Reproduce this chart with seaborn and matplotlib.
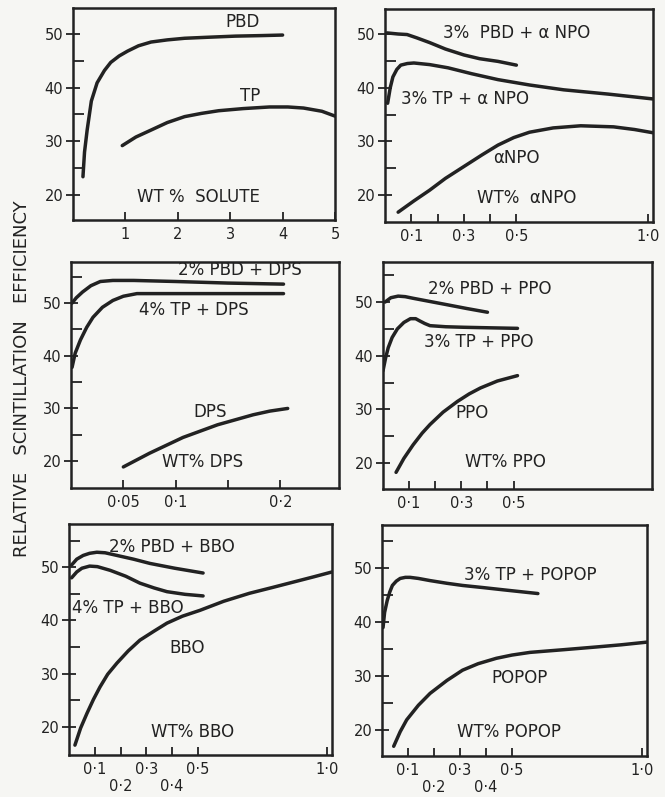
import matplotlib
matplotlib.use("Agg")
import matplotlib.pyplot as plt
import seaborn as sns

# ---------------- data ----------------
# panel A : wt % solute
pbd_x = [0.19, 0.22, 0.27, 0.35, 0.46, 0.6, 0.72, 0.88, 1.04, 1.25, 1.49, 1.8, 2.13, 2.6, 3.1, 3.6, 4.0]
pbd_y = [23.4, 28.0, 32.1, 37.5, 40.9, 43.2, 44.7, 45.9, 46.8, 47.8, 48.5, 48.9, 49.2, 49.4, 49.6, 49.7, 49.8]
tp_x = [0.94, 1.2, 1.49, 1.8, 2.13, 2.45, 2.78, 3.25, 3.75, 4.1, 4.4, 4.75, 5.0]
tp_y = [29.2, 30.8, 32.1, 33.5, 34.6, 35.2, 35.7, 36.1, 36.4, 36.4, 36.2, 35.6, 34.7]

# panel B : wt % alpha NPO
pbd_anpo_x = [0.008, 0.05, 0.084, 0.12, 0.17, 0.23, 0.30, 0.36, 0.43, 0.5]
pbd_anpo_y = [50.2, 50.0, 49.9, 49.3, 48.4, 47.2, 46.1, 45.4, 44.9, 44.2]
tp_anpo_x = [0.01, 0.02, 0.03, 0.045, 0.06, 0.085, 0.11, 0.17, 0.24, 0.33, 0.43, 0.55, 0.68, 0.85, 1.02]
tp_anpo_y = [37.1, 40.0, 42.0, 43.4, 44.2, 44.5, 44.6, 44.3, 43.7, 42.6, 41.5, 40.5, 39.6, 38.8, 37.9]
anpo_x = [0.05, 0.11, 0.17, 0.23, 0.30, 0.37, 0.43, 0.49, 0.55, 0.64, 0.745, 0.87, 0.95, 1.02]
anpo_y = [16.8, 18.9, 20.9, 23.1, 25.3, 27.5, 29.3, 30.7, 31.7, 32.5, 32.9, 32.7, 32.2, 31.6]

# panel C : wt % DPS
pbd_dps_x = [0.001, 0.005, 0.011, 0.019, 0.028, 0.04, 0.06, 0.1, 0.15, 0.203]
pbd_dps_y = [50.0, 51.0, 52.1, 53.3, 54.1, 54.3, 54.3, 54.1, 53.8, 53.6]
tp_dps_x = [0.001, 0.004, 0.009, 0.015, 0.021, 0.03, 0.04, 0.05, 0.063, 0.1, 0.15, 0.203]
tp_dps_y = [37.8, 40.5, 43.0, 45.4, 47.3, 49.2, 50.5, 51.3, 51.8, 51.8, 51.8, 51.8]
dps_x = [0.05, 0.075, 0.107, 0.14, 0.174, 0.19, 0.207]
dps_y = [18.9, 21.5, 24.5, 26.9, 28.8, 29.5, 30.0]

# panel D : wt % PPO
pbd_ppo_x = [0.008, 0.03, 0.058, 0.085, 0.115, 0.18, 0.245, 0.32, 0.40]
pbd_ppo_y = [50.0, 50.8, 51.1, 51.0, 50.7, 50.1, 49.5, 48.8, 48.1]
tp_ppo_x = [0.0, 0.01, 0.02, 0.035, 0.055, 0.08, 0.105, 0.125, 0.14, 0.16, 0.18, 0.24, 0.31, 0.41, 0.515]
tp_ppo_y = [37.2, 39.6, 41.5, 43.4, 45.0, 46.2, 46.9, 46.9, 46.5, 46.0, 45.6, 45.4, 45.3, 45.2, 45.1]
ppo_x = [0.05, 0.08, 0.115, 0.15, 0.18, 0.23, 0.285, 0.33, 0.373, 0.438, 0.515]
ppo_y = [18.3, 20.9, 23.4, 25.6, 27.2, 29.5, 31.5, 32.9, 34.0, 35.3, 36.3]

# panel E : wt % BBO
pbd_bbo_x = [0.01, 0.03, 0.055, 0.08, 0.108, 0.14, 0.186, 0.25, 0.314, 0.41, 0.52]
pbd_bbo_y = [50.4, 51.5, 52.2, 52.6, 52.8, 52.7, 52.2, 51.5, 50.7, 49.8, 48.9]
tp_bbo_x = [0.01, 0.03, 0.05, 0.08, 0.11, 0.16, 0.22, 0.275, 0.33, 0.38, 0.45, 0.52]
tp_bbo_y = [48.0, 49.1, 49.8, 50.2, 50.1, 49.4, 48.3, 47.0, 46.1, 45.4, 44.9, 44.6]
bbo_x = [0.023, 0.045, 0.07, 0.095, 0.12, 0.15, 0.186, 0.23, 0.275, 0.33, 0.38, 0.44, 0.508, 0.6, 0.70, 0.79, 0.87, 0.95, 1.02]
bbo_y = [16.6, 19.8, 22.6, 25.2, 27.5, 29.9, 32.0, 34.3, 36.3, 38.0, 39.5, 40.8, 41.9, 43.6, 45.1, 46.2, 47.2, 48.2, 49.1]

# panel F : wt % POPOP
tp_popop_x = [0.004, 0.01, 0.02, 0.03, 0.04, 0.055, 0.07, 0.09, 0.108, 0.14, 0.185, 0.25, 0.31, 0.39, 0.465, 0.6]
tp_popop_y = [39.0, 41.8, 44.0, 45.6, 46.8, 47.6, 48.1, 48.3, 48.3, 48.1, 47.7, 47.2, 46.8, 46.4, 46.0, 45.3]
popop_x = [0.045, 0.07, 0.095, 0.14, 0.185, 0.25, 0.31, 0.37, 0.44, 0.5, 0.57, 0.7, 0.825, 0.92, 1.02]
popop_y = [17.0, 19.7, 21.9, 24.6, 26.8, 29.2, 31.1, 32.3, 33.3, 33.9, 34.4, 34.9, 35.4, 35.8, 36.3]

# tick positions / labels per panel
ticks_a = [1, 2, 3, 4, 5]
labels_a = ["1", "2", "3", "4", "5"]
ticks_b = [0.1, 0.2, 0.3, 0.4, 0.5, 1.0]
labels_b = ["0·1", "", "0·3", "", "0·5", "1·0"]
ticks_c = [0.05, 0.1, 0.15, 0.2]
labels_c = ["0·05", "0·1", "", "0·2"]
ticks_d = [0.1, 0.2, 0.3, 0.4, 0.5]
labels_d = ["0·1", "", "0·3", "", "0·5"]
ticks_e = [0.1, 0.2, 0.3, 0.4, 0.5, 1.0]
labels_e = ["0·1", "\n0·2", "0·3", "\n0·4", "0·5", "1·0"]

INK = "#222222"
PAPER = "#f6f6f3"
W, H = 665, 797

sns.set_theme(style="ticks")
plt.rcParams["font.family"] = ["DejaVu Sans"]

fig = plt.figure(figsize=(W / 100, H / 100), dpi=100, facecolor=PAPER)


def make_axes(x0, y0, x1, y1):
    # pixel box -> figure fraction
    return fig.add_axes([x0 / W, 1 - y1 / H, (x1 - x0) / W, (y1 - y0) / H])


def style(ax, xlim, ylim, ticks, labels, minor_y):
    ax.set_facecolor(PAPER)
    ax.set_xlim(*xlim)
    ax.set_ylim(*ylim)
    ax.set_xticks(ticks)
    ax.set_xticklabels(labels)
    ax.set_xticks([], minor=True)
    ax.set_yticks([20, 30, 40, 50])
    ax.set_yticks(minor_y, minor=True)
    ax.tick_params(axis="both", which="both", color=INK, width=1.3,
                   labelsize=10.5, labelcolor=INK)
    ax.tick_params(axis="y", which="major", direction="inout", length=10, pad=2)
    ax.tick_params(axis="y", which="minor", direction="in", length=8)
    ax.tick_params(axis="x", which="major", direction="in", length=6, pad=5)
    for sp in ax.spines.values():
        sp.set_visible(True)
        sp.set_linewidth(1.8)
        sp.set_color(INK)
    ax.set_xlabel("")
    ax.set_ylabel("")


def curve(ax, x, y):
    sns.lineplot(x=x, y=y, ax=ax, color=INK, linewidth=2.5, sort=False,
                 estimator=None)


def note(ax, x, y, s):
    ax.text(x, y, s, ha="center", va="center", fontsize=12, color=INK)


# ---- A
ax = make_axes(73, 8, 335, 220)
curve(ax, pbd_x, pbd_y)
curve(ax, tp_x, tp_y)
note(ax, 3.23, 52.3, "PBD")
note(ax, 3.38, 38.4, "TP")
note(ax, 2.4, 19.6, "WT %  SOLUTE")
style(ax, (0, 5), (15.34, 54.84), ticks_a, labels_a, [25, 35, 45])

# ---- B
ax = make_axes(385, 9, 653, 222)
curve(ax, pbd_anpo_x, pbd_anpo_y)
curve(ax, tp_anpo_x, tp_anpo_y)
curve(ax, anpo_x, anpo_y)
note(ax, 0.5, 50.2, "3%  PBD + α NPO")
note(ax, 0.305, 37.8, "3% TP + α NPO")
note(ax, 0.5, 26.9, "αNPO")
note(ax, 0.54, 19.4, "WT%  αNPO")
style(ax, (0, 1.02), (14.97, 54.66), ticks_b, labels_b, [25, 35, 45])

# ---- C
ax = make_axes(71, 262, 339, 488)
curve(ax, pbd_dps_x, pbd_dps_y)
curve(ax, tp_dps_x, tp_dps_y)
curve(ax, dps_x, dps_y)
note(ax, 0.161, 56.2, "2% PBD + DPS")
note(ax, 0.117, 48.7, "4% TP + DPS")
note(ax, 0.133, 29.4, "DPS")
note(ax, 0.126, 19.8, "WT% DPS")
style(ax, (0, 0.256), (14.9, 57.8), ticks_c, labels_c, [25, 35, 45, 55])

# ---- D
ax = make_axes(383, 262, 652, 489)
curve(ax, pbd_ppo_x, pbd_ppo_y)
curve(ax, tp_ppo_x, tp_ppo_y)
curve(ax, ppo_x, ppo_y)
note(ax, 0.41, 52.4, "2% PBD + PPO")
note(ax, 0.365, 42.5, "3% TP + PPO")
note(ax, 0.34, 29.3, "PPO")
note(ax, 0.47, 20.2, "WT% PPO")
style(ax, (0, 1.03), (15.2, 57.45), ticks_d, labels_d, [25, 35, 45, 55])

# ---- E
ax = make_axes(69, 524, 332, 755)
curve(ax, pbd_bbo_x, pbd_bbo_y)
curve(ax, tp_bbo_x, tp_bbo_y)
curve(ax, bbo_x, bbo_y)
note(ax, 0.4, 53.8, "2% PBD + BBO")
note(ax, 0.23, 42.3, "4% TP + BBO")
note(ax, 0.46, 34.9, "BBO")
note(ax, 0.48, 19.1, "WT% BBO")
style(ax, (0, 1.02), (14.75, 58.1), ticks_e, labels_e, [25, 35, 45, 55])

# ---- F
ax = make_axes(382, 525, 647, 756)
curve(ax, tp_popop_x, tp_popop_y)
curve(ax, popop_x, popop_y)
note(ax, 0.57, 48.7, "3% TP + POPOP")
note(ax, 0.53, 29.6, "POPOP")
note(ax, 0.49, 19.6, "WT% POPOP")
style(ax, (0, 1.02), (15.2, 58.0), ticks_e, labels_e, [25, 35, 45, 55])

fig.text(22 / W, 1 - 379 / H, "RELATIVE   SCINTILLATION   EFFICIENCY",
         rotation=90, ha="center", va="center", fontsize=13, color=INK)

fig.savefig("out.png", dpi=100, facecolor=PAPER)
